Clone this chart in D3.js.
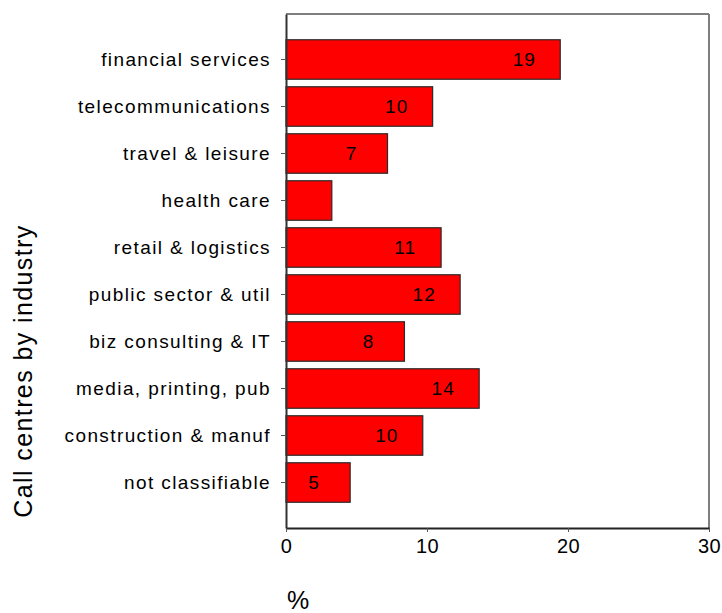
<!DOCTYPE html>
<html>
<head>
<meta charset="utf-8">
<script src="https://cdn.jsdelivr.net/npm/d3@7"></script>
<style>
  body { margin: 0; background: #fff; }
  svg { font-family: "Liberation Sans", Arial, sans-serif; }
</style>
</head>
<body>
<svg width="722" height="613"></svg>
<script>
// data
var industries = ["financial services", "telecommunications", "travel & leisure", "health care",
  "retail & logistics", "public sector & util", "biz consulting & IT", "media, printing, pub",
  "construction & manuf", "not classifiable"];
var shares = [19.45, 10.4, 7.2, 3.25, 11.0, 12.35, 8.4, 13.7, 9.7, 4.55];
var barLabels = ["19", "10", "7", null, "11", "12", "8", "14", "10", "5"];
var xTicks = [0, 10, 20, 30];

var svg = d3.select("svg");
var plotLeft = 286, plotRight = 709, plotTop = 14, plotBottom = 528;

var x = d3.scaleLinear().domain([0, 30]).range([plotLeft, plotRight]);
var y = d3.scaleBand().domain(industries).range([plotTop, plotBottom])
  .paddingInner(0.16).paddingOuter(0.548);

var rows = industries.map(function (d, i) {
  return { name: d, value: shares[i], label: barLabels[i] };
});

// frame: top and right in grey
svg.append("line").attr("x1", plotLeft).attr("x2", plotRight).attr("y1", plotTop).attr("y2", plotTop)
  .attr("stroke", "#7f7f7f").attr("stroke-width", 2);
svg.append("line").attr("x1", plotRight).attr("x2", plotRight).attr("y1", plotTop).attr("y2", plotBottom)
  .attr("stroke", "#7f7f7f").attr("stroke-width", 2);

// bars
svg.append("g").selectAll("rect").data(rows).enter().append("rect")
  .attr("x", x(0))
  .attr("y", function (d) { return y(d.name); })
  .attr("width", function (d) { return x(d.value) - x(0); })
  .attr("height", y.bandwidth())
  .attr("fill", "#ff0000")
  .attr("stroke", "#2a2a2a")
  .attr("stroke-width", 1.2);

// value labels inside bars
svg.append("g").selectAll("text").data(rows.filter(function (d) { return d.label; }))
  .enter().append("text")
  .attr("x", function (d) { return x(d.value) - 36; })
  .attr("y", function (d) { return y(d.name) + y.bandwidth() / 2; })
  .attr("dy", "0.36em")
  .attr("text-anchor", "middle")
  .style("font-size", "19px")
  .style("letter-spacing", "1px")
  .attr("fill", "#000")
  .text(function (d) { return d.label; });

// y axis
var yAxis = svg.append("g").attr("transform", "translate(" + plotLeft + ",0)")
  .call(d3.axisLeft(y).tickSize(5).tickPadding(10).tickSizeOuter(0));
yAxis.select(".domain").attr("stroke", "#333").attr("stroke-width", 2);
yAxis.selectAll(".tick line").attr("stroke", "#555");
yAxis.selectAll(".tick text")
  .style("font-size", "19px").style("letter-spacing", "1.4px")
  .attr("fill", "#000");
yAxis.attr("font-size", null).attr("font-family", null);

// x axis
var xAxis = svg.append("g").attr("transform", "translate(0," + plotBottom + ")")
  .call(d3.axisBottom(x).tickValues(xTicks).tickSize(4).tickPadding(7).tickSizeOuter(0));
xAxis.select(".domain").attr("stroke", "#222").attr("stroke-width", 2);
xAxis.selectAll(".tick line").attr("stroke", "#555");
xAxis.selectAll(".tick text")
  .style("font-size", "20px").style("letter-spacing", "0.5px")
  .attr("fill", "#000");
xAxis.attr("font-size", null).attr("font-family", null);

// axis titles
svg.append("text")
  .attr("transform", "translate(32,371) rotate(-90)")
  .attr("text-anchor", "middle")
  .style("font-size", "25px").style("letter-spacing", "1.4px")
  .attr("fill", "#000")
  .text("Call centres by industry");

svg.append("text")
  .attr("x", 287).attr("y", 609)
  .style("font-size", "25px")
  .attr("fill", "#000")
  .text("%");
</script>
</body>
</html>
